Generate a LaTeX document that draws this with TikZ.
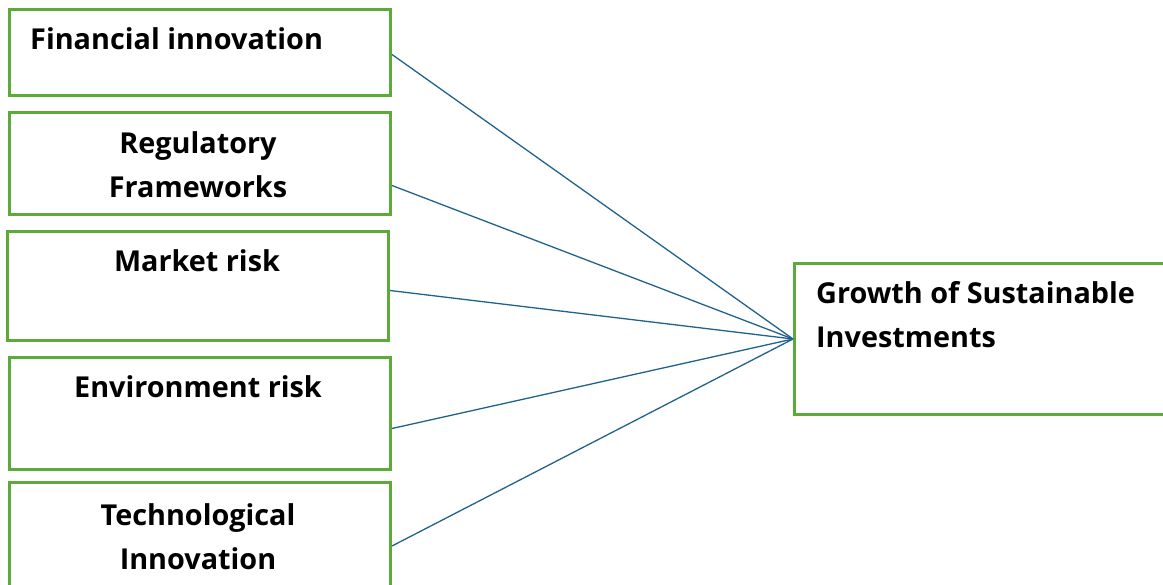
\documentclass[tikz,border=0pt]{standalone}
\usepackage{fontspec}
\setmainfont{Open Sans}
\definecolor{boxgreen}{HTML}{5BAA3A}
\definecolor{linkblue}{HTML}{21628C}
\begin{document}
\begin{tikzpicture}[x=1pt,y=-1pt,
  box/.style={draw=boxgreen, line width=3pt, inner sep=0pt, anchor=north west},
  lbl/.style={font=\bfseries\fontsize{28.8}{44}\selectfont, align=center, inner sep=0pt},
  link/.style={draw=linkblue, line width=1.3pt}]
\useasboundingbox (0,0) rectangle (1163,585);
\clip (0,0) rectangle (1163,585);
% factor boxes
\node[box, minimum width=381pt, minimum height=86pt]  (fin) at (8,8) {};
\node[box, minimum width=381pt, minimum height=102pt] (reg) at (8,111) {};
\node[box, minimum width=381pt, minimum height=109pt] (mkt) at (6,230) {};
\node[box, minimum width=381pt, minimum height=112pt] (env) at (8,356) {};
\node[box, minimum width=381pt, minimum height=125pt] (tec) at (8,481) {};
% outcome box
\node[box, minimum width=390pt, minimum height=151pt] (gsi) at (793,262) {};
% labels (two-line labels are placed by the baseline of their last line)
\node[lbl, anchor=base west] (finT) at (30,50) {Financial innovation};
\node[lbl, anchor=base] (regT) at (198,198) {Regulatory\\Frameworks};
\node[lbl, anchor=base] (mktT) at (197,272) {Market risk};
\node[lbl, anchor=base] (envT) at (198,398) {Environment risk};
\node[lbl, anchor=base] (tecT) at (198,569) {Technological\\Innovation};
\node[lbl, anchor=base west, align=left] (gsiT) at (816,348) {Growth of Sustainable\\Investments};
% connectors
\draw[link] ([yshift=-2pt]fin.east) -- (gsi.west);
\draw[link] ([yshift=-22pt]reg.east) -- (gsi.west);
\draw[link] ([yshift=-4.5pt]mkt.east) -- (gsi.west);
\draw[link] ([yshift=-15pt]env.east) -- (gsi.west);
\draw[link] ([yshift=-1pt]tec.east) -- (gsi.west);
\end{tikzpicture}
\end{document}
